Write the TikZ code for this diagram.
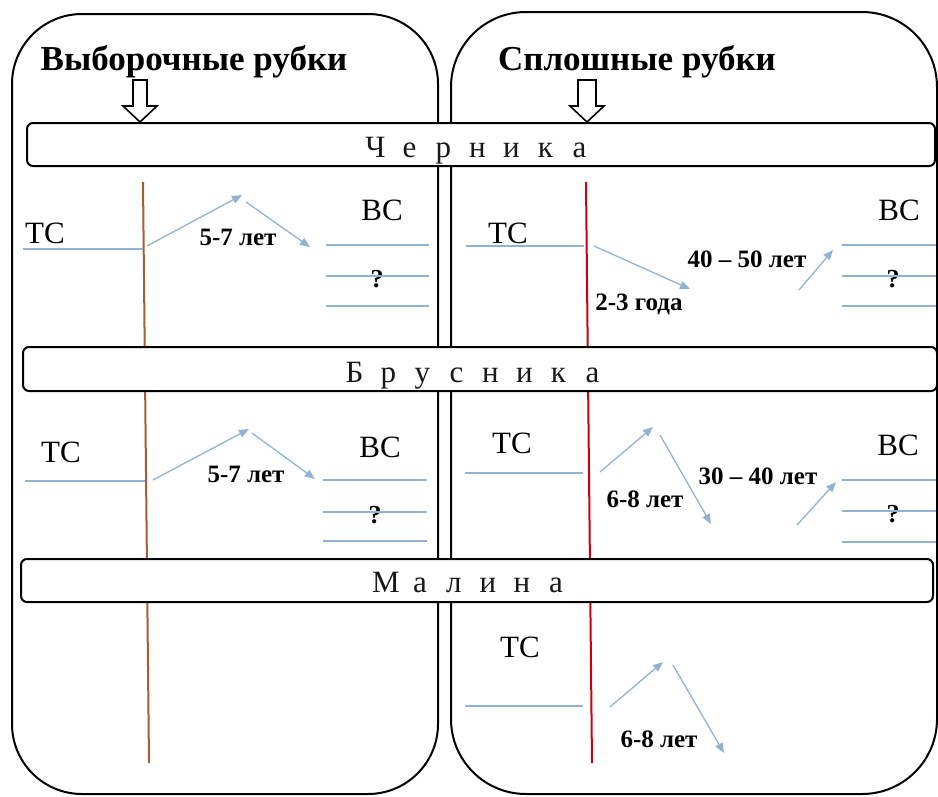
\documentclass[tikz,border=0pt]{standalone}
\usepackage{fontspec}
\setmainfont{Liberation Serif}
\usetikzlibrary{arrows.meta}
\definecolor{lineblue}{RGB}{146,178,212}
\definecolor{trunkbrown}{RGB}{168,92,52}
\definecolor{trunkred}{RGB}{204,0,12}
\newcommand{\lsb}[1]{\makebox[34pt]{#1}}
\begin{document}
\begin{tikzpicture}[x=1pt,y=-1pt,
  panel/.style={draw=black, line width=2pt, inner sep=0pt},
  bar/.style={draw=black, fill=white, line width=2pt, rounded corners=6pt, inner sep=0pt},
  title/.style={inner sep=0pt, anchor=base, font=\bfseries\fontsize{35}{37}\selectfont},
  barlabel/.style={inner sep=0pt, anchor=base, font=\fontsize{31}{33}\selectfont, text=black!90},
  layer/.style={inner sep=0pt, anchor=base, font=\fontsize{31}{33}\selectfont},
  qmark/.style={inner sep=0pt, anchor=base, font=\bfseries\fontsize{26}{28}\selectfont},
  years/.style={inner sep=0pt, anchor=base, font=\bfseries\fontsize{25}{27}\selectfont},
  bline/.style={draw=lineblue, line width=1.3pt},
  barrow/.style={draw=lineblue, line width=1.3pt, -{Triangle[length=10pt,width=8pt]}},
  hollow/.style={draw=black, fill=white, line width=1.6pt, line join=miter},
]
\useasboundingbox (0,0) rectangle (938,796);

% panels
\node[panel, rounded corners=70pt, minimum width=426pt, minimum height=780pt] (leftpanel) at (225,404) {};
\node[panel, rounded corners=75pt, minimum width=486pt, minimum height=782pt] (rightpanel) at (694,403) {};

% trunks
\coordinate (btop) at (143,182); \coordinate (bbot) at (149,763);
\coordinate (rtop) at (586,182); \coordinate (rbot) at (592,763);
\draw[trunkbrown, line width=2pt] (btop) -- (bbot);
\draw[trunkred, line width=2pt] (rtop) -- (rbot);

% bars
\node[bar, minimum width=908pt, minimum height=43pt] (barCh) at (481,144.5) {};
\node[bar, minimum width=914pt, minimum height=44pt] (barBr) at (480,369) {};
\node[bar, minimum width=912pt, minimum height=43pt] (barMa) at (477,580.5) {};
\node[barlabel] (lblCh) at (477.5,157) {\lsb{Ч}\lsb{е}\lsb{р}\lsb{н}\lsb{и}\lsb{к}\lsb{а}};
\node[barlabel] (lblBr) at (473.5,382) {\lsb{Б}\lsb{р}\lsb{у}\lsb{с}\lsb{н}\lsb{и}\lsb{к}\lsb{а}};
\node[barlabel] (lblMa) at (471,592) {\lsb{М}\lsb{а}\lsb{л}\lsb{и}\lsb{н}\lsb{а}};

% titles
\node[title] (titleL) at (194,70) {Выборочные рубки};
\node[title] (titleR) at (637,70) {Сплошные рубки};

% hollow down arrows
\draw[hollow] (133,80) -- (147,80) -- (147,106) -- (157,106) -- (140,122) -- (123,106) -- (133,106) -- cycle;
\draw[hollow] (578,80) -- (596,80) -- (596,106) -- (604,106) -- (587,122) -- (570,106) -- (578,106) -- cycle;

% ---------- Черника, left
\node[layer] (tc1L) at (45,243) {ТС};
\node[layer] (bc1L) at (382,220) {ВС};
\node[qmark] (q1L) at (377,287) {?};
\node[years] (y1L) at (238,245) {5-7 лет};
\coordinate (t1La) at (23,249); \coordinate (t1Lb) at (143,249);
\draw[bline] (t1La) -- (t1Lb);
\coordinate (a1La) at (147,246); \coordinate (a1Lb) at (242,195);
\coordinate (a1Lc) at (246,202); \coordinate (a1Ld) at (310,247);
\draw[barrow] (a1La) -- (a1Lb);
\draw[barrow] (a1Lc) -- (a1Ld);
\foreach \yy in {245,276,306} { \draw[bline] (326,\yy) coordinate (b1La) -- (429,\yy) coordinate (b1Lb); }

% ---------- Черника, right
\node[layer] (tc1R) at (508,243) {ТС};
\node[layer] (bc1R) at (899,220) {ВС};
\node[qmark] (q1R) at (893,287) {?};
\node[years] (y1Ra) at (639,310) {2-3 года};
\node[years] (y1Rb) at (747,267) {40 – 50 лет};
\coordinate (t1Ra) at (466,246); \coordinate (t1Rb) at (584,246);
\draw[bline] (t1Ra) -- (t1Rb);
\coordinate (a1Ra) at (594,246); \coordinate (a1Rb) at (690,289);
\coordinate (a1Rc) at (799,290); \coordinate (a1Rd) at (833,250);
\draw[barrow] (a1Ra) -- (a1Rb);
\draw[barrow] (a1Rc) -- (a1Rd);
\foreach \yy in {245,276,306} { \draw[bline] (842,\yy) coordinate (b1Ra) -- (936,\yy) coordinate (b1Rb); }

% ---------- Брусника, left
\node[layer] (tc2L) at (61,462) {ТС};
\node[layer] (bc2L) at (380,457) {ВС};
\node[qmark] (q2L) at (375,523) {?};
\node[years] (y2L) at (246,482) {5-7 лет};
\coordinate (t2La) at (25,481); \coordinate (t2Lb) at (145,481);
\draw[bline] (t2La) -- (t2Lb);
\coordinate (a2La) at (153,480); \coordinate (a2Lb) at (249,429);
\coordinate (a2Lc) at (252,433); \coordinate (a2Ld) at (315,479);
\draw[barrow] (a2La) -- (a2Lb);
\draw[barrow] (a2Lc) -- (a2Ld);
\foreach \yy in {480,512,541} { \draw[bline] (323,\yy) coordinate (b2La) -- (427,\yy) coordinate (b2Lb); }

% ---------- Брусника, right
\node[layer] (tc2R) at (512,453) {ТС};
\node[layer] (bc2R) at (898,455) {ВС};
\node[qmark] (q2R) at (893,522) {?};
\node[years] (y2Ra) at (645,507) {6-8 лет};
\node[years] (y2Rb) at (758,484) {30 – 40 лет};
\coordinate (t2Ra) at (465,473); \coordinate (t2Rb) at (583,473);
\draw[bline] (t2Ra) -- (t2Rb);
\coordinate (a2Ra) at (600,472); \coordinate (a2Rb) at (653,427);
\coordinate (a2Rc) at (660,435); \coordinate (a2Rd) at (711,524);
\coordinate (a2Re) at (797,525); \coordinate (a2Rf) at (836,482);
\draw[barrow] (a2Ra) -- (a2Rb);
\draw[barrow] (a2Rc) -- (a2Rd);
\draw[barrow] (a2Re) -- (a2Rf);
\foreach \yy in {480,511,542} { \draw[bline] (842,\yy) coordinate (b2Ra) -- (936,\yy) coordinate (b2Rb); }

% ---------- Малина, right
\node[layer] (tc3R) at (520,657) {ТС};
\node[years] (y3R) at (659,747) {6-8 лет};
\coordinate (t3Ra) at (465,706); \coordinate (t3Rb) at (583,706);
\draw[bline] (t3Ra) -- (t3Rb);
\coordinate (a3Ra) at (610,707); \coordinate (a3Rb) at (663,662);
\coordinate (a3Rc) at (673,665); \coordinate (a3Rd) at (724,753);
\draw[barrow] (a3Ra) -- (a3Rb);
\draw[barrow] (a3Rc) -- (a3Rd);
\end{tikzpicture}
\end{document}
